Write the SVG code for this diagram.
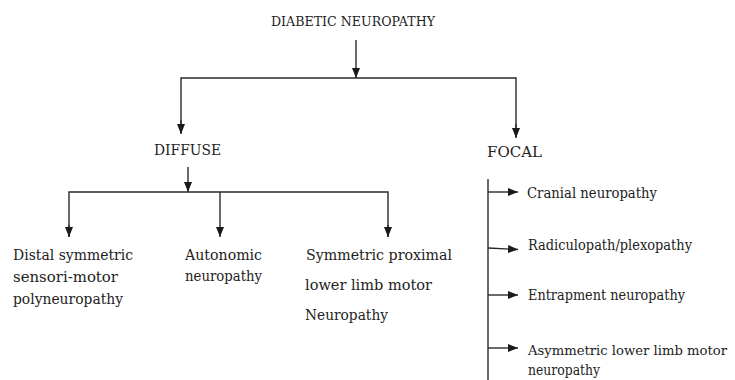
<svg xmlns="http://www.w3.org/2000/svg" width="735" height="380" viewBox="0 0 735 380">
<defs>
<style>
text{font-family:"DejaVu Serif","Liberation Serif",serif;font-size:15.5px;fill:#222;}
.t{font-size:13.5px;}
.s{font-size:12.8px;}
.ln{stroke:#2a2a2a;stroke-width:1.4;fill:none;}
</style>
<marker id="ah" markerUnits="userSpaceOnUse" markerWidth="10" markerHeight="10" viewBox="0 0 10 10" refX="10" refY="5" orient="auto">
<path d="M0,1 L10,5 L0,9 Z" fill="#1a1a1a"/>
</marker>
</defs>
<rect width="735" height="380" fill="#fff"/>
<g id="connectors">
<line class="ln" x1="356" y1="40" x2="356" y2="78" marker-end="url(#ah)"/>
<polyline class="ln" points="181,133 181,78 516,78 516,137"/>
<line class="ln" x1="181" y1="120" x2="181" y2="134" marker-end="url(#ah)"/>
<line class="ln" x1="516" y1="124" x2="516" y2="138" marker-end="url(#ah)"/>
<line class="ln" x1="188" y1="167" x2="188" y2="192" marker-end="url(#ah)"/>
<polyline class="ln" points="69,237 69,192 388,192 388,237"/>
<line class="ln" x1="220" y1="192" x2="220" y2="237" marker-end="url(#ah)"/>
<line class="ln" x1="69" y1="225" x2="69" y2="237" marker-end="url(#ah)"/>
<line class="ln" x1="388" y1="225" x2="388" y2="237" marker-end="url(#ah)"/>
<line class="ln" x1="488" y1="179" x2="488" y2="380"/>
<line class="ln" x1="488" y1="192" x2="518" y2="192" marker-end="url(#ah)"/>
<line class="ln" x1="488" y1="248" x2="518" y2="249.5" marker-end="url(#ah)"/>
<line class="ln" x1="488" y1="295" x2="518" y2="295" marker-end="url(#ah)"/>
<line class="ln" x1="488" y1="348" x2="518" y2="348" marker-end="url(#ah)"/>
</g>
<g id="root"><text class="t" x="271" y="26" textLength="164" lengthAdjust="spacingAndGlyphs">DIABETIC NEUROPATHY</text></g>
<g id="diffuse"><text x="154" y="155" textLength="67" lengthAdjust="spacingAndGlyphs">DIFFUSE</text></g>
<g id="focal"><text x="487" y="157" textLength="55" lengthAdjust="spacingAndGlyphs">FOCAL</text></g>
<g id="distal">
<text x="13" y="260" textLength="120" lengthAdjust="spacingAndGlyphs">Distal symmetric</text>
<text x="13" y="282" textLength="105" lengthAdjust="spacingAndGlyphs">sensori-motor</text>
<text x="13" y="304" textLength="110" lengthAdjust="spacingAndGlyphs">polyneuropathy</text>
</g>
<g id="autonomic">
<text x="185" y="260" textLength="77" lengthAdjust="spacingAndGlyphs">Autonomic</text>
<text x="185" y="281" textLength="77" lengthAdjust="spacingAndGlyphs">neuropathy</text>
</g>
<g id="proximal">
<text x="306" y="260" textLength="146" lengthAdjust="spacingAndGlyphs">Symmetric proximal</text>
<text x="305" y="290" textLength="127" lengthAdjust="spacingAndGlyphs">lower limb motor</text>
<text x="305" y="320" textLength="83" lengthAdjust="spacingAndGlyphs">Neuropathy</text>
</g>
<g id="cranial"><text x="527" y="198" textLength="130" lengthAdjust="spacingAndGlyphs">Cranial neuropathy</text></g>
<g id="radiculo"><text x="528" y="250" textLength="164" lengthAdjust="spacingAndGlyphs">Radiculopath/plexopathy</text></g>
<g id="entrapment"><text x="528" y="300" textLength="157" lengthAdjust="spacingAndGlyphs">Entrapment neuropathy</text></g>
<g id="asymmetric">
<text class="s" x="528" y="355" textLength="199" lengthAdjust="spacingAndGlyphs">Asymmetric lower limb motor</text>
<text x="528" y="375" textLength="72" lengthAdjust="spacingAndGlyphs">neuropathy</text>
</g>
</svg>
